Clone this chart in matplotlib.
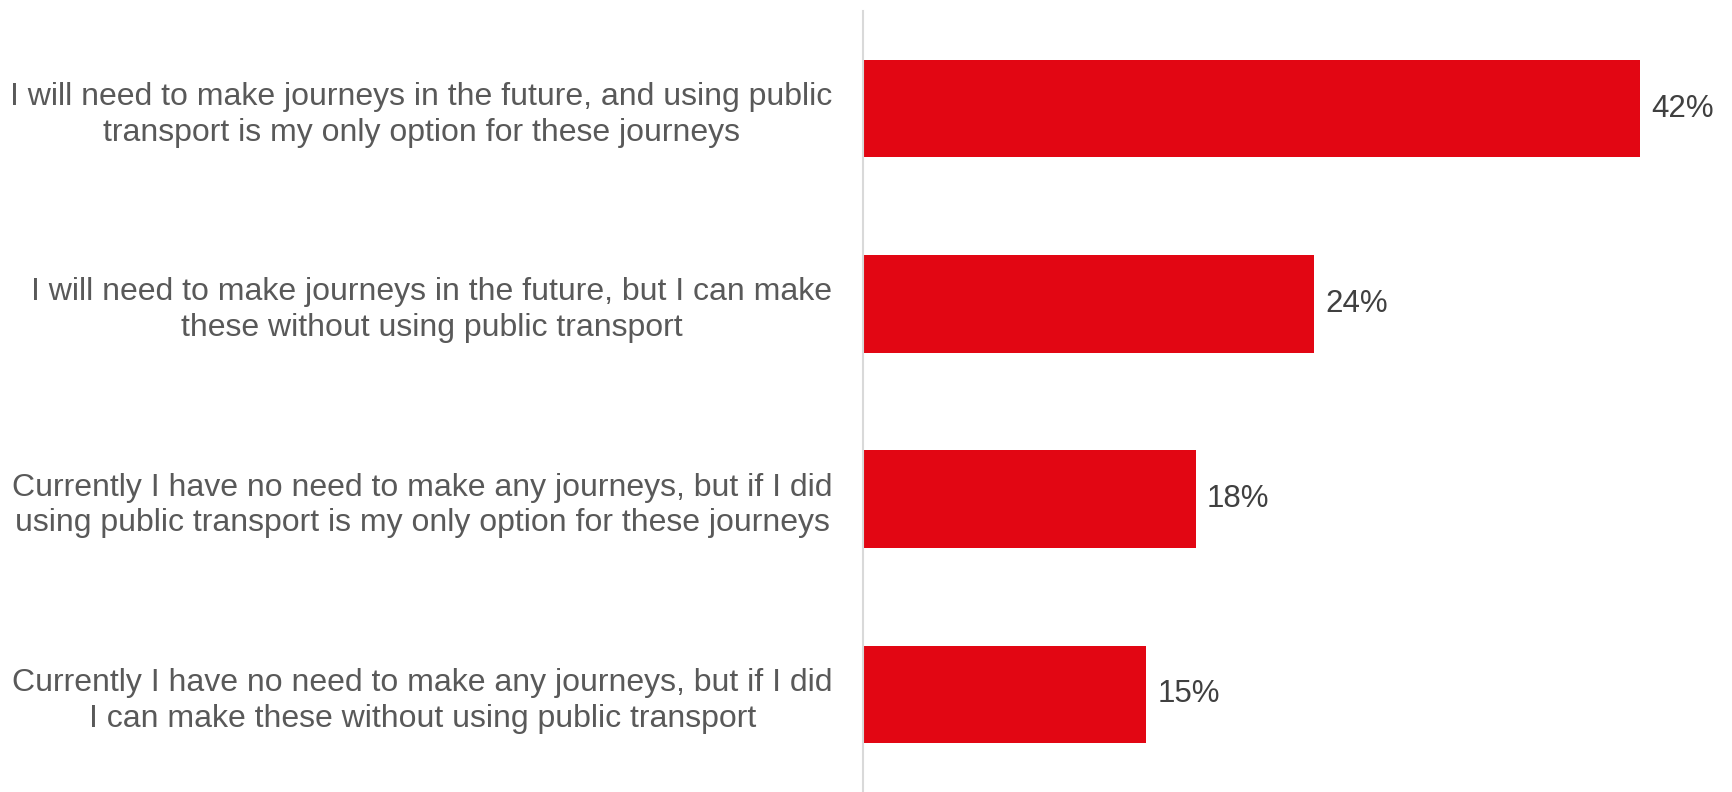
import numpy as np
import matplotlib.pyplot as plt

plt.rcParams['font.family'] = ['Liberation Sans', 'DejaVu Sans']

# survey answers, top to bottom
answers = [
    "I will need to make journeys in the future, and using public\ntransport is my only option for these journeys",
    "I will need to make journeys in the future, but I can make\nthese without using public transport",
    "Currently I have no need to make any journeys, but if I did\nusing public transport is my only option for these journeys",
    "Currently I have no need to make any journeys, but if I did\nI can make these without using public transport",
]
shares = [42.0, 24.4, 18.0, 15.3]
share_labels = ["42%", "24%", "18%", "15%"]

fig = plt.figure(figsize=(17.32, 7.92), dpi=100)
ax = fig.add_axes([863 / 1732, 0.0, 851 / 1732, 1 - 11 / 792])

y = np.arange(len(answers))
ax.barh(y, shares, height=0.5, color='#E20613')
ax.set_ylim(3.5, -0.5)
ax.set_xlim(0, 46)

for yi, v, lab in zip(y, shares, share_labels):
    ax.annotate(lab, (v, yi), xytext=(8, 0), textcoords='offset points',
                va='center', ha='left', fontsize=22.5, color='#404040')

ax.set_yticks(y)
ax.set_yticklabels(answers, fontsize=23, color='#595959', multialignment='center',
                   linespacing=1.25)
ax.tick_params(axis='y', length=0, pad=22)
ax.set_xticks([])

for s in ['top', 'right', 'bottom']:
    ax.spines[s].set_visible(False)
ax.spines['left'].set_color('#D9D9D9')
ax.spines['left'].set_linewidth(1.5)

fig.savefig('out.png', dpi=100)
